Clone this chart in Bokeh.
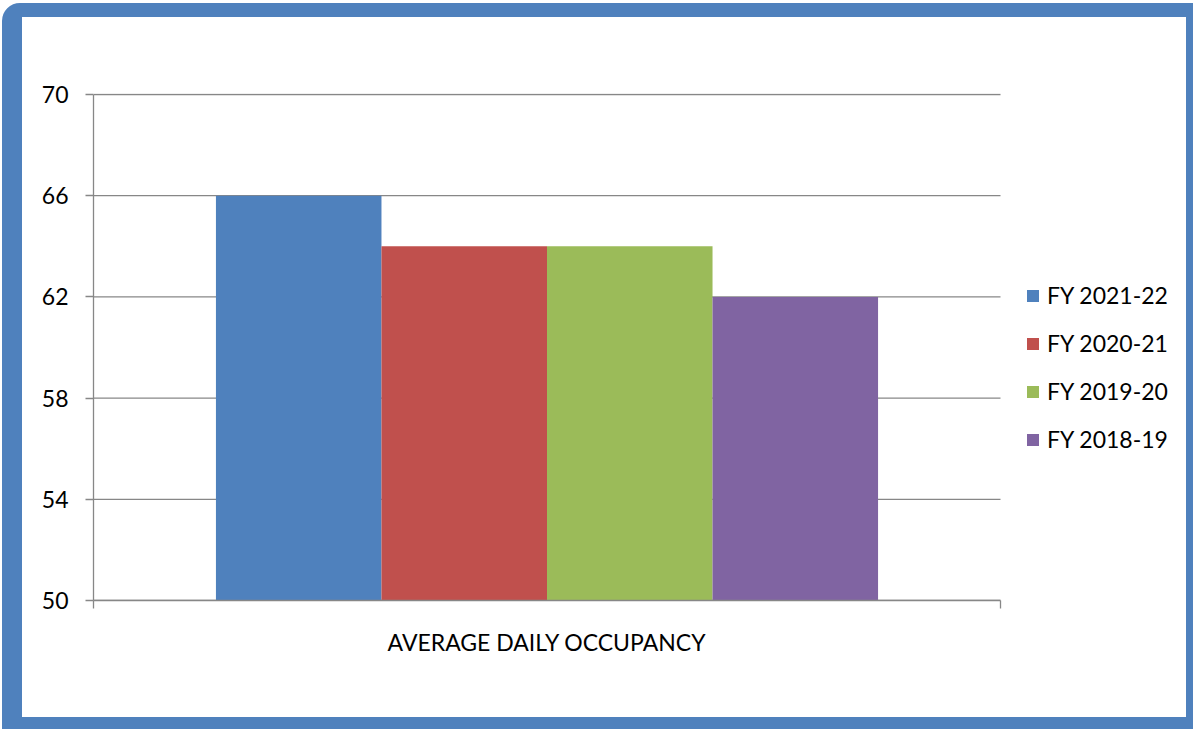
from bokeh.plotting import figure
from bokeh.models import Range1d, FixedTicker, Legend, LegendItem, LinearAxis, ColumnDataSource
from bokeh.embed import file_html
from bokeh.resources import INLINE

categories = ["AVERAGE DAILY OCCUPANCY"]
series = ["FY 2021-22", "FY 2020-21", "FY 2019-20", "FY 2018-19"]
values = [66, 64, 64, 62]
colors = ["#4F81BD", "#C0504D", "#9BBB59", "#8064A2"]
y_ticks = [50, 54, 58, 62, 66, 70]

FONT = "Lato"
FSIZE = "23px"
GRAY = "#878787"

# frame spans the category (907 px) plus the legend area to its right
ncat = len(categories)
x_end = ncat * 1087 / 907

p = figure(x_range=Range1d(0, x_end),
           y_range=Range1d(50, 70.04),
           width=1191, height=726,
           output_backend="svg", toolbar_location=None,
           min_border_left=71, min_border_right=33,
           min_border_top=76, min_border_bottom=143)
p.styles = {"border-style": "solid", "border-color": "#4F81BD",
            "border-width": "14px 7px 12px 20px", "border-radius": "18px 0 0 0",
            "overflow": "hidden", "margin": "3px 0 0 2px"}
p.outline_line_color = None
p.background_fill_color = "white"
p.border_fill_color = "white"
p.xgrid.visible = False
p.ygrid.visible = False

# horizontal gridlines limited to the category area
grid_src = ColumnDataSource(dict(x0=[0] * len(y_ticks), x1=[ncat] * len(y_ticks),
                                 y=y_ticks))
p.segment(x0="x0", x1="x1", y0="y", y1="y", source=grid_src,
          line_color=GRAY, line_width=1.3)

bw = 0.1825
renderers = []
for i, (s, v, c) in enumerate(zip(series, values, colors)):
    src = ColumnDataSource(dict(x=[k + 0.5 + (i - 1.5) * bw for k in range(ncat)],
                                top=[v]))
    r = p.vbar(x="x", top="top", bottom=0, width=bw, source=src,
               fill_color=c, line_color=None)
    renderers.append(r)

# y axis
ya = p.yaxis[0]
ya.ticker = FixedTicker(ticks=y_ticks)
ya.bounds = (min(y_ticks), max(y_ticks))
ya.axis_line_color = GRAY
ya.axis_line_width = 1.3
ya.major_tick_line_color = GRAY
ya.major_tick_line_width = 1.3
ya.major_tick_out = 8
ya.major_tick_in = 0
ya.minor_tick_line_color = None
ya.major_label_text_font = FONT
ya.major_label_text_font_size = FSIZE
ya.major_label_text_color = "black"
ya.major_label_standoff = 17

# x axis: line and Excel-style boundary ticks over the category only
xa = p.xaxis[0]
xa.ticker = FixedTicker(ticks=list(range(ncat + 1)))
xa.bounds = (0, ncat)
xa.axis_line_color = GRAY
xa.axis_line_width = 1.3
xa.major_tick_line_color = GRAY
xa.major_tick_line_width = 1.3
xa.major_tick_out = 8
xa.major_tick_in = 0
xa.minor_tick_line_color = None
xa.major_label_text_font_size = "0px"
xa.major_label_standoff = 0

# category label axis
centers = [k + 0.5 for k in range(ncat)]
la = LinearAxis(ticker=FixedTicker(ticks=centers),
                major_label_overrides={c: name for c, name in zip(centers, categories)},
                axis_line_color=None, major_tick_line_color=None,
                minor_tick_line_color=None, major_tick_out=0, major_tick_in=0,
                major_label_text_font=FONT, major_label_text_font_size=FSIZE,
                major_label_text_color="black", major_label_standoff=19)
p.add_layout(la, "below")

legend = Legend(items=[LegendItem(label=s, renderers=[r]) for s, r in zip(series, renderers)],
                location=(932, 147), orientation="vertical",
                label_text_font=FONT, label_text_font_size=FSIZE, label_text_color="black",
                glyph_width=15, glyph_height=15, label_standoff=7, spacing=20,
                padding=0, margin=0, border_line_color=None, background_fill_alpha=0)
p.add_layout(legend)

open("out.html", "w").write(file_html(p, INLINE))
